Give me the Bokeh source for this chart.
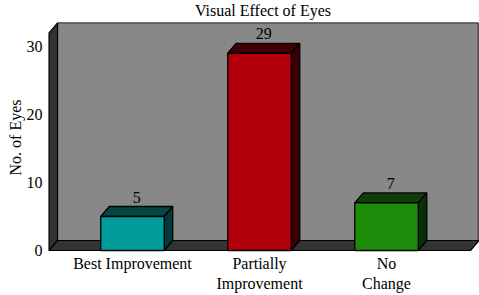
from bokeh.plotting import figure
from bokeh.models import Range1d, FixedTicker
from bokeh.core.properties import value
from bokeh.embed import file_html
from bokeh.resources import INLINE

# data
categories = ["Best Improvement", "Partially\nImprovement", "No\nChange"]
eyes = [5, 29, 7]
y_ticks = [0, 10, 20, 30]

front_colors = ["#039c9c", "#b1000c", "#1f8b0b"]
top_colors = ["#084545", "#3e0003", "#0f3c09"]
side_colors = ["#053838", "#360005", "#0b3008"]

FONT = "Liberation Serif"

# pseudo-3D depth offsets (in data units)
DX = 0.067
DY = 1.47
BAR_W = 0.5
WALL_H = 32.0

x_lo, x_hi = -0.677, 2.732
y_lo, y_hi = -0.588, 33.82

p = figure(width=479, height=295, output_backend="svg", toolbar_location=None,
           x_range=Range1d(x_lo, x_hi), y_range=Range1d(y_lo, y_hi),
           min_border_left=46, min_border_right=0, min_border_top=20,
           min_border_bottom=41)
p.background_fill_color = "white"
p.border_fill_color = "white"
p.outline_line_color = None
p.grid.visible = False

p.title.text = "Visual Effect of Eyes"
p.title.align = "center"
p.title.offset = 5
p.title.vertical_align = "top"
p.title.text_line_height = 0.55
p.title.text_font = FONT
p.title.text_font_size = "16px"
p.title.text_font_style = "normal"
p.title.text_color = "black"
p.title.standoff = 0

# walls and floor
wall_x0 = x_lo + 0.02
floor_x1 = 2.661
back_x1 = x_hi - 0.01
p.patch([wall_x0 + DX, back_x1, back_x1, wall_x0 + DX],
        [DY, DY, WALL_H + DY, WALL_H + DY],
        fill_color="#888888", line_color="#1a1a1a", line_width=1)
p.patch([wall_x0, wall_x0, wall_x0 + DX, wall_x0 + DX],
        [0, WALL_H, WALL_H + DY, DY],
        fill_color="#333333", line_color="black", line_width=1.2)
p.patch([wall_x0, floor_x1, floor_x1 + DX, wall_x0 + DX],
        [0, 0, DY, DY],
        fill_color="#333333", line_color="black", line_width=1.2)

# bars
xs = list(range(len(eyes)))
for i, v in enumerate(eyes):
    l, r = xs[i] - BAR_W / 2, xs[i] + BAR_W / 2
    # top face
    p.patch([l, r, r + DX, l + DX], [v, v, v + DY, v + DY],
            fill_color=top_colors[i], line_color="black", line_width=1.3)
    # side face
    p.patch([r, r + DX, r + DX, r], [0, DY, v + DY, v],
            fill_color=side_colors[i], line_color="black", line_width=1.3)
    # front face
    p.quad(left=l, right=r, bottom=0, top=v,
           fill_color=front_colors[i], line_color="black", line_width=1.3)

# value labels
p.text(x=[x + DX / 2 for x in xs], y=[v + DY for v in eyes],
       text=[str(v) for v in eyes], text_align="center",
       text_baseline="bottom", y_offset=-4,
       text_font=value(FONT), text_font_size="16px", text_color="black")

# axes
p.yaxis.ticker = FixedTicker(ticks=y_ticks)
p.yaxis.axis_label = "No. of Eyes"
p.yaxis.axis_label_text_font = FONT
p.yaxis.axis_label_text_font_size = "16px"
p.yaxis.axis_label_text_font_style = "normal"
p.yaxis.axis_label_text_line_height = 0.8
p.yaxis.axis_label_standoff = 0
p.yaxis.major_label_text_font = FONT
p.yaxis.major_label_text_font_size = "16px"
p.yaxis.major_label_standoff = 4

p.xaxis.ticker = FixedTicker(ticks=xs)
p.xaxis.major_label_overrides = {i: c for i, c in enumerate(categories)}
p.xaxis.major_label_text_font = FONT
p.xaxis.major_label_text_font_size = "16px"
p.xaxis.major_label_standoff = 0

for ax in (p.xaxis[0], p.yaxis[0]):
    ax.axis_line_color = None
    ax.major_tick_line_color = None
    ax.minor_tick_line_color = None
    ax.major_tick_out = 0
    ax.major_tick_in = 0
    ax.minor_tick_out = 0
    ax.minor_tick_in = 0
    ax.major_label_text_color = "black"
    ax.axis_label_text_color = "black"

open("out.html", "w").write(file_html(p, INLINE))
